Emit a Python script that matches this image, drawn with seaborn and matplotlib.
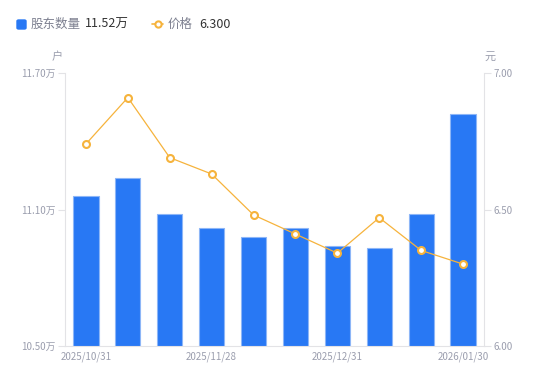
import numpy as np
import matplotlib
matplotlib.use("Agg")
import matplotlib.pyplot as plt
import matplotlib.lines as mlines
import matplotlib.patches as mpatches
import seaborn as sns
import pandas as pd

# data
dates = ["2025/10/31", "2025/11/10", "2025/11/20", "2025/11/28", "2025/12/10",
         "2025/12/19", "2025/12/31", "2026/01/09", "2026/01/20", "2026/01/30"]
holders = [11.16, 11.24, 11.08, 11.02, 10.98, 11.02, 10.94, 10.93, 11.08, 11.52]  # 万户
price = [6.74, 6.91, 6.69, 6.63, 6.48, 6.41, 6.34, 6.47, 6.35, 6.30]  # 元
shown_dates = ["2025/10/31", "2025/11/28", "2025/12/31", "2026/01/30"]

BLUE = "#2878F4"
ORANGE = "#F6B33C"
GREY = "#9b9eae"
AXIS = "#e3e3e6"

sns.set_style("white")
plt.rcParams['font.family'] = ['Noto Sans CJK SC', 'DejaVu Sans']

df = pd.DataFrame({"date": dates, "holders": holders, "price": price})

fig = plt.figure(figsize=(5.5, 3.81), dpi=100)
ax = fig.add_axes([65 / 550, 35 / 381, 419 / 550, 273 / 381])

sns.barplot(data=df, x="date", y="holders", color=BLUE, width=0.6,
            saturation=1, edgecolor="#8db6f7", linewidth=0.8, ax=ax)
ax.set_ylim(10.5, 11.7)
ax.set_xlim(-0.5, len(dates) - 0.5)
ax.set_yticks([10.5, 11.1, 11.7])
ax.set_yticklabels([f"{v:.2f}万" for v in [10.5, 11.1, 11.7]])
ax.set_xticks([dates.index(d) for d in shown_dates])
ax.set_xticklabels(shown_dates)
ax.set_xlabel("")
ax.set_ylabel("")

ax2 = ax.twinx()
sns.lineplot(x=np.arange(len(dates)), y=price, color=ORANGE, linewidth=0.9,
             marker="o", markersize=5, markerfacecolor="white",
             markeredgecolor=ORANGE, markeredgewidth=1.5, ax=ax2)
ax2.set_ylim(6.0, 7.0)
ax2.set_yticks([6.0, 6.5, 7.0])
ax2.set_yticklabels(["6.00", "6.50", "7.00"])
ax2.set_xlim(-0.5, len(dates) - 0.5)

for a in (ax, ax2):
    for s in a.spines.values():
        s.set_visible(False)
    a.tick_params(labelsize=7, colors=GREY, length=5, width=0.8, pad=2)
    a.grid(False)
ax.spines["left"].set_visible(True)
ax.spines["left"].set_color(AXIS)
ax.spines["bottom"].set_visible(True)
ax.spines["bottom"].set_color(AXIS)
ax2.spines["right"].set_visible(True)
ax2.spines["right"].set_color(AXIS)
ax.tick_params(axis="y", color=AXIS)
ax2.tick_params(axis="y", color=AXIS)
ax.tick_params(axis="x", length=0, pad=4)

fig.text(57 / 550, 1 - 57 / 381, "户", fontsize=8, color=GREY, ha="center", va="center")
fig.text(490 / 550, 1 - 57 / 381, "元", fontsize=8, color=GREY, ha="center", va="center")

# legend row
fig.patches.append(mpatches.FancyBboxPatch((17 / 550, 1 - 29 / 381), 9 / 550, 9 / 381,
                                           boxstyle="round,pad=0,rounding_size=0.003",
                                           transform=fig.transFigure, color=BLUE))
fig.text(31 / 550, 1 - 24 / 381, "股东数量", fontsize=9, color="#7d8090", va="center")
fig.text(85 / 550, 1 - 24 / 381, "11.52万", fontsize=9, color="#333333", va="center")
fig.lines.append(mlines.Line2D([152 / 550, 163 / 550], [1 - 24 / 381] * 2,
                               transform=fig.transFigure, color=ORANGE, linewidth=1.2,
                               marker="o", markevery=[], markersize=0))
fig.lines.append(mlines.Line2D([157.5 / 550], [1 - 24 / 381], transform=fig.transFigure,
                               marker="o", markersize=4.5, markerfacecolor="white",
                               markeredgecolor=ORANGE, markeredgewidth=1.5))
fig.text(168 / 550, 1 - 24 / 381, "价格", fontsize=9, color="#7d8090", va="center")
fig.text(199 / 550, 1 - 24 / 381, "6.300", fontsize=9, color="#333333", va="center")

fig.savefig("out.png", dpi=100)
